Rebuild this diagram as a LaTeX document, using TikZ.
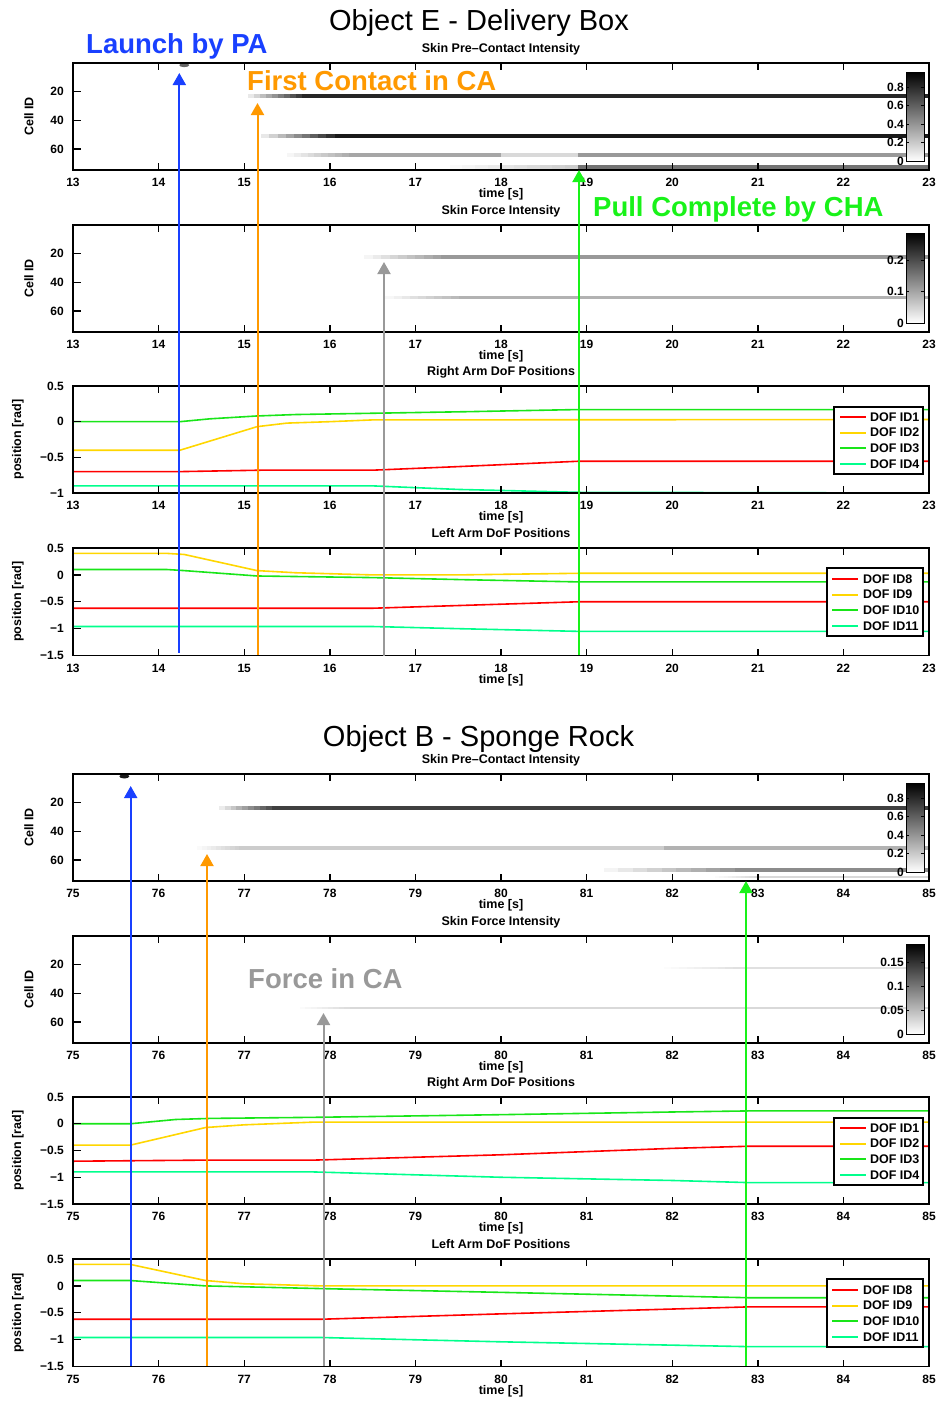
\documentclass[tikz,border=0pt]{standalone}
\usepackage{fontspec}
\setmainfont{Liberation Sans}
\usetikzlibrary{arrows.meta}

\definecolor{launchblue}{rgb}{0.1,0.25,1}
\definecolor{contactorange}{rgb}{1,0.6,0}
\definecolor{forcegray}{rgb}{0.6,0.6,0.6}
\definecolor{pullgreen}{rgb}{0.1,0.95,0.1}
\definecolor{dofred}{rgb}{1,0,0}
\definecolor{dofyellow}{rgb}{1,0.84,0}
\definecolor{dofgreen}{rgb}{0.1,0.9,0.1}
\definecolor{dofspring}{rgb}{0,1,0.55}

\begin{document}
\begin{tikzpicture}[x=1pt, y=-1pt,
    axframe/.style={line width=1.8pt},
    axtick/.style={line width=1.4pt},
    ticklabel/.style={font=\fontsize{12}{12}\selectfont\bfseries, inner sep=0pt},
    axlabel/.style={font=\fontsize{12.5}{13}\selectfont\bfseries, inner sep=0pt},
    plottitle/.style={font=\fontsize{29}{30}\selectfont, inner sep=0pt, anchor=base},
    timeaxis/.style={xshift={73pt-#1*85.6pt}, x=85.6pt},
    dof/.style={line width=1.6pt, line join=round},
    legendbox/.style={draw, fill=white, line width=1.3pt},
    legendline/.style={line width=2pt},
    legendlabel/.style={font=\fontsize{12.5}{13}\selectfont\bfseries, inner sep=0pt, anchor=west, text=black},
    cbar/.style={draw, line width=0.8pt, bottom color=white, top color=black},
    event/.style={line width=2pt, -{Triangle[width=13pt, length=12pt]}},
    eventlabel/.style={font=\fontsize{27.5}{28}\selectfont\bfseries, inner sep=0pt, anchor=base west}]

\useasboundingbox (0,0) rectangle (936,1406);

%%%%%%%%%%%%%%%%%%%%%%%%%% Object E %%%%%%%%%%%%%%%%%%%%%%%%%%
\node[plottitle] (titleE) at (479,30) {Object E - Delivery Box};

% pre-contact intensity, y in cell ids
% stripes: fade start / full / end / cell / height / darkness
\begin{scope}[timeaxis=13, yshift=-63pt, y=-1.435pt]
    \fill[black!60] (14.3,1.5) ellipse [x radius=5pt, y radius=2pt];
    \foreach \ta/\tb/\te/\cy/\h/\k in {15.05/15.75/23/23/2.8/85, 15.2/16.15/23/51.2/2.8/90,
        15.5/16.3/18/64.1/2.8/35, 17.4/18.9/18.9/72.5/2.4/20} {
        \foreach \s in {0,...,9} {
            \pgfmathsetmacro\tint{\k*(\s+1)/10}
            \fill[black!\tint] ({\ta+(\tb-\ta)*\s/10},\cy-\h/2) rectangle ({\ta+(\tb-\ta)*(\s+1)/10+0.01},\cy+\h/2);
        }
        \fill[black!\k] (\tb,\cy-\h/2) rectangle (\te,\cy+\h/2);
    }
    \fill[black!15] (18,62.7) rectangle (18.9,65.5);
    \fill[black!40] (18.9,62.7) rectangle (23,65.5);
    \fill[black!55] (18.9,71.3) rectangle (23,73.7);
\end{scope}

% force intensity
\begin{scope}[timeaxis=13, yshift=-225pt, y=-1.435pt]
    \foreach \ta/\tb/\te/\cy/\h/\k in {16.4/17.4/23/22.3/2.1/40, 16.65/17.6/23/50.2/2.1/30} {
        \foreach \s in {0,...,9} {
            \pgfmathsetmacro\tint{\k*(\s+1)/10}
            \fill[black!\tint] ({\ta+(\tb-\ta)*\s/10},\cy-\h/2) rectangle ({\ta+(\tb-\ta)*(\s+1)/10+0.01},\cy+\h/2);
        }
        \fill[black!\k] (\tb,\cy-\h/2) rectangle (\te,\cy+\h/2);
    }
\end{scope}

% right arm, y in rad
\begin{scope}[timeaxis=13, yshift=-421.67pt, y=71.33pt]
    \draw[dof, dofspring] plot coordinates {(13,-0.9) (16.5,-0.9) (17.5,-0.95) (18.9,-0.99) (23,-1)};
    \draw[dof, dofred] plot coordinates {(13,-0.7) (14.25,-0.7) (15.2,-0.68) (16.5,-0.68) (17.5,-0.63) (18.9,-0.555) (23,-0.555)};
    \draw[dof, dofyellow] plot coordinates {(13,-0.4) (14.25,-0.4) (15.15,-0.07) (15.5,-0.02) (16,0) (16.5,0.025) (23,0.03)};
    \draw[dof, dofgreen] plot coordinates {(13,0) (14.25,0) (14.6,0.04) (15.15,0.08) (15.6,0.1) (16.6,0.12) (17.6,0.14) (18.9,0.17) (23,0.17)};
\end{scope}

% left arm
\begin{scope}[timeaxis=13, yshift=-574.9pt, y=53.75pt]
    \draw[dof, dofspring] plot coordinates {(13,-0.96) (16.5,-0.96) (17.5,-1) (18.9,-1.05) (23,-1.05)};
    \draw[dof, dofred] plot coordinates {(13,-0.62) (16.5,-0.62) (17.5,-0.57) (18.9,-0.5) (23,-0.5)};
    \draw[dof, dofgreen] plot coordinates {(13,0.1) (14.1,0.1) (14.3,0.08) (15.15,-0.02) (16.5,-0.05) (17.6,-0.09) (18.9,-0.13) (23,-0.13)};
    \draw[dof, dofyellow] plot coordinates {(13,0.4) (14.1,0.4) (14.3,0.38) (15.15,0.08) (15.6,0.04) (16.5,0) (17.5,0) (18.9,0.03) (23,0.03)};
\end{scope}

%%%%%%%%%%%%%%%%%%%%%%%%%% Object B %%%%%%%%%%%%%%%%%%%%%%%%%%
\begin{scope}[yshift=-711pt]
\node[plottitle] (titleB) at (478.5,35.5) {Object B - Sponge Rock};

\begin{scope}[timeaxis=75, yshift=-63pt, y=-1.435pt]
    \fill[black!90] (75.6,1.6) ellipse [x radius=5pt, y radius=2.2pt];
    \foreach \ta/\tb/\te/\cy/\h/\k in {76.7/77.4/85/23.5/2.8/75, 76.45/77/81.9/51.6/2.4/20,
        81.2/82.9/85/67/2.8/45, 82.5/83/85/72/1.6/15} {
        \foreach \s in {0,...,9} {
            \pgfmathsetmacro\tint{\k*(\s+1)/10}
            \fill[black!\tint] ({\ta+(\tb-\ta)*\s/10},\cy-\h/2) rectangle ({\ta+(\tb-\ta)*(\s+1)/10+0.01},\cy+\h/2);
        }
        \fill[black!\k] (\tb,\cy-\h/2) rectangle (\te,\cy+\h/2);
    }
    \fill[black!30] (81.9,50.4) rectangle (85,52.8);
\end{scope}

\begin{scope}[timeaxis=75, yshift=-225pt, y=-1.435pt]
    \foreach \ta/\tb/\te/\cy/\h/\k in {81.9/82.8/85/22.3/1.6/12, 77.65/78.3/85/50/1.6/15} {
        \foreach \s in {0,...,9} {
            \pgfmathsetmacro\tint{\k*(\s+1)/10}
            \fill[black!\tint] ({\ta+(\tb-\ta)*\s/10},\cy-\h/2) rectangle ({\ta+(\tb-\ta)*(\s+1)/10+0.01},\cy+\h/2);
        }
        \fill[black!\k] (\tb,\cy-\h/2) rectangle (\te,\cy+\h/2);
    }
\end{scope}

\begin{scope}[timeaxis=75, yshift=-412.75pt, y=53.5pt]
    \draw[dof, dofspring] plot coordinates {(75,-0.9) (77.8,-0.9) (80,-1) (82,-1.06) (82.9,-1.1) (85,-1.1)};
    \draw[dof, dofred] plot coordinates {(75,-0.7) (76.5,-0.68) (77.8,-0.68) (80,-0.58) (82,-0.46) (82.9,-0.42) (85,-0.42)};
    \draw[dof, dofyellow] plot coordinates {(75,-0.4) (75.67,-0.4) (76.55,-0.07) (77,-0.02) (77.8,0.03) (85,0.03)};
    \draw[dof, dofgreen] plot coordinates {(75,0) (75.67,0) (76.2,0.08) (76.6,0.1) (77.8,0.12) (80,0.17) (82,0.22) (82.9,0.24) (85,0.24)};
\end{scope}

\begin{scope}[timeaxis=75, yshift=-574.9pt, y=53.75pt]
    \draw[dof, dofspring] plot coordinates {(75,-0.96) (77.9,-0.96) (80,-1.04) (82.9,-1.13) (85,-1.13)};
    \draw[dof, dofred] plot coordinates {(75,-0.62) (77.9,-0.62) (80,-0.52) (82.9,-0.39) (85,-0.39)};
    \draw[dof, dofgreen] plot coordinates {(75,0.1) (75.67,0.1) (76.55,0) (77.9,-0.05) (80,-0.12) (82.9,-0.22) (85,-0.22)};
    \draw[dof, dofyellow] plot coordinates {(75,0.4) (75.67,0.4) (76.55,0.1) (77,0.04) (77.9,0) (85,0)};
\end{scope}
\end{scope}

%%%%%%%%%%%%%%%%%%%%%%%%%% axes of both objects %%%%%%%%%%%%%%%%%%%%%%%%%%
\foreach \g/\dy/\tz in {E/0/13, B/711/75} {
\begin{scope}[yshift=-\dy pt]
    \foreach \top/\bot/\ylab/\ylx/\sub in {63/170/Cell ID/29/Skin Pre--Contact Intensity, 225/332/Cell ID/29/Skin Force Intensity,
        386/493/position [rad]/18/Right Arm DoF Positions, 548/655.5/position [rad]/18/Left Arm DoF Positions} {
        \draw[axframe] (73,\top) rectangle (929,\bot);
        \foreach \i in {0,...,10} {
            \pgfmathtruncatemacro{\t}{\tz+\i}
            \draw[axtick] ({73+85.6*\i},\top) -- ++(0,7);
            \draw[axtick] ({73+85.6*\i},\bot) -- ++(0,-7);
            \node[ticklabel, anchor=base] (xt\g\top-\i) at ({73+85.6*\i},\bot+16.5) {\t};
        }
        \node[axlabel, anchor=base] (time\g\top) at (501,\bot+27.5) {time [s]};
        \node[axlabel, anchor=base] (sub\g\top) at (501,\top-10.5) {\sub};
        \node[axlabel, rotate=90] (ylab\g\top) at (\ylx,{(\top+\bot)/2}) {\ylab};
    }
    % cell id ticks
    \foreach \top in {63,225}
        \foreach \c in {20,40,60} {
            \draw[axtick] (73,\top+1.435*\c) -- ++(8,0);
            \node[ticklabel, anchor=east] (yt\g\top-\c) at (64,\top+1.435*\c) {\c};
        }
    % left arm ticks
    \foreach \v/\txt [count=\k] in {0.5/0.5, 0/0, -0.5/−0.5, -1/−1, -1.5/−1.5} {
        \draw[axtick] (73,574.9-53.75*\v) -- ++(8,0);
        \node[ticklabel, anchor=east] (ytl\g\k) at (64,574.9-53.75*\v) {\txt};
    }
    % colorbar of the pre-contact intensity
    \path[cbar] (906,72) rectangle (924,161);
    \foreach \py/\txt [count=\k] in {161/0, 142.5/0.2, 124/0.4, 105.5/0.6, 87/0.8} {
        \draw[line width=0.6pt] (906,\py) -- ++(3,0) (924,\py) -- ++(-3,0);
        \node[ticklabel, anchor=east] (cb\g\k) at (904,\py) {\txt};
    }
    \path[cbar] (906,233) rectangle (924,323);
    % legends
    \draw[legendbox] (834,407) rectangle (923,474);
    \foreach \c/\n [count=\k] in {dofred/1, dofyellow/2, dofgreen/3, dofspring/4}
        \draw[legendline, \c] (840,{401+15.75*\k}) -- ++(26,0) node[legendlabel, right=3pt] (legr\g\k) {DOF ID\n};
    \draw[legendbox] (827,568) rectangle (923,636);
    \foreach \c/\n [count=\k] in {dofred/8, dofyellow/9, dofgreen/10, dofspring/11}
        \draw[legendline, \c] (832,{563+15.75*\k}) -- ++(26,0) node[legendlabel, right=4pt] (legl\g\k) {DOF ID\n};
\end{scope}
}

% right arm ticks (different ranges)
\foreach \v/\txt [count=\k] in {0.5/0.5, 0/0, -0.5/−0.5, -1/−1} {
    \draw[axtick] (73,421.67-71.33*\v) -- ++(8,0);
    \node[ticklabel, anchor=east] (ytrE\k) at (64,421.67-71.33*\v) {\txt};
}
\begin{scope}[yshift=-711pt]
\foreach \v/\txt [count=\k] in {0.5/0.5, 0/0, -0.5/−0.5, -1/−1, -1.5/−1.5} {
    \draw[axtick] (73,412.75-53.5*\v) -- ++(8,0);
    \node[ticklabel, anchor=east] (ytrB\k) at (64,412.75-53.5*\v) {\txt};
}
\end{scope}

% force colorbar labels
\foreach \py/\txt [count=\k] in {323/0, 291.5/0.1, 260/0.2} {
    \draw[line width=0.6pt] (906,\py) -- ++(3,0) (924,\py) -- ++(-3,0);
    \node[ticklabel, anchor=east] (cfE\k) at (904,\py) {\txt};
}
\begin{scope}[yshift=-711pt]
\foreach \py/\txt [count=\k] in {323/0, 299/0.05, 275/0.1, 251/0.15} {
    \draw[line width=0.6pt] (906,\py) -- ++(3,0) (924,\py) -- ++(-3,0);
    \node[ticklabel, anchor=east] (cfB\k) at (904,\py) {\txt};
}
\end{scope}

%%%%%%%%%%%%%%%%%%%%%%%%%% events %%%%%%%%%%%%%%%%%%%%%%%%%%
\coordinate (launchfootE) at (179.3,652.5);  \coordinate (launchtipE) at (179.3,73);
\coordinate (contactfootE) at (257.5,655);   \coordinate (contacttipE) at (257.5,103);
\coordinate (forcefootE) at (384,656);       \coordinate (forcetipE) at (384,262);
\coordinate (pullfootE) at (579,655);        \coordinate (pulltipE) at (579,170);
\draw[event, launchblue] (launchfootE) -- (launchtipE);
\draw[event, contactorange] (contactfootE) -- (contacttipE);
\draw[event, forcegray] (forcefootE) -- (forcetipE);
\draw[event, pullgreen] (pullfootE) -- (pulltipE);
\node[eventlabel, launchblue] (launchlabel) at (86,53.5) {Launch by PA};
\node[eventlabel, contactorange] (contactlabel) at (247,90.5) {First Contact in CA};
\node[eventlabel, pullgreen] (pulllabel) at (593,216.5) {Pull Complete by CHA};

\begin{scope}[yshift=-711pt]
\coordinate (launchfootB) at (130.7,654.5);  \coordinate (launchtipB) at (130.7,75);
\coordinate (contactfootB) at (207,654.5);   \coordinate (contacttipB) at (207,143);
\coordinate (forcefootB) at (323.5,654.5);   \coordinate (forcetipB) at (323.5,302);
\coordinate (pullfootB) at (746,654.5);      \coordinate (pulltipB) at (746,170);
\draw[event, launchblue] (launchfootB) -- (launchtipB);
\draw[event, contactorange] (contactfootB) -- (contacttipB);
\draw[event, forcegray] (forcefootB) -- (forcetipB);
\draw[event, pullgreen] (pullfootB) -- (pulltipB);
\node[eventlabel, forcegray] (forcelabel) at (248,277) {Force in CA};
\end{scope}

\end{tikzpicture}
\end{document}
